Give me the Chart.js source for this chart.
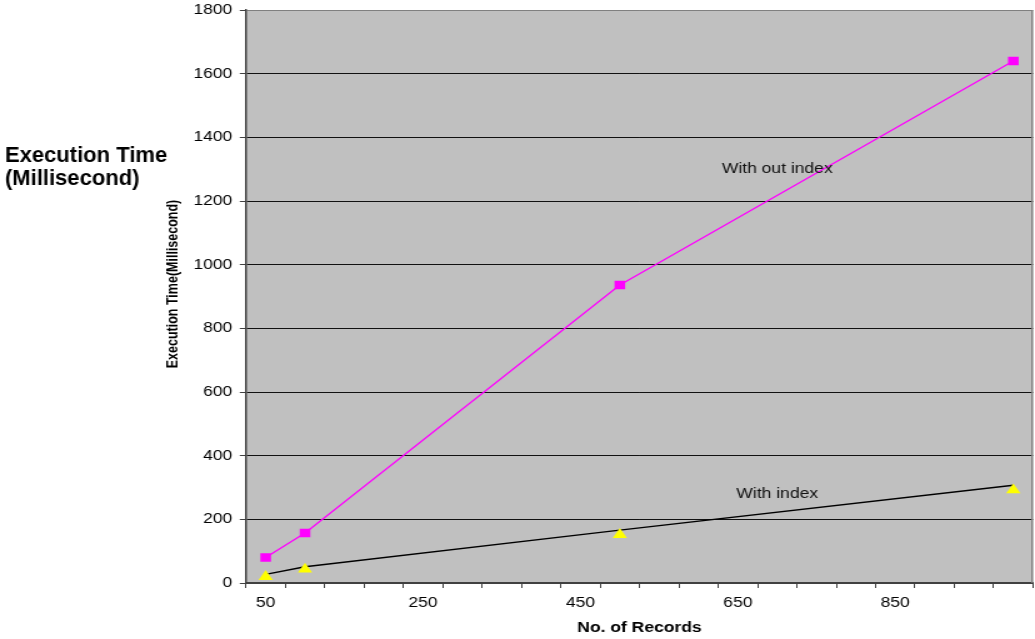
<!DOCTYPE html>
<html>
<head>
<meta charset="utf-8">
<title>Execution Time (Millisecond)</title>
<script src="https://cdn.jsdelivr.net/npm/chart.js@4/dist/chart.umd.min.js"></script>
<style>
  html, body { margin: 0; padding: 0; background: #ffffff; overflow: hidden; }
  #wrap { position: absolute; left: 0; top: 0; width: 1035px; height: 639px; }
  /* the chart is drawn narrow and widened horizontally */
  #chart { transform: scaleX(1.25); transform-origin: 0 0; }
</style>
</head>
<body>
<div id="wrap"><canvas id="chart" width="828" height="639"></canvas></div>
<script>
// ---- data ----
const records = [50, 100, 500, 1000];
const timeWithoutIndex = [80, 157, 936, 1640];
const timeWithIndex = [20, 43, 152, 292];
const withIndexTrend = [27, 51, 166, 307];
const xTickLabels = [50, 250, 450, 650, 850];
const seriesNames = ['With out index', 'With index'];

// ---- layout constants ----
const STRETCH = 1.25;
const FONT = "'Liberation Sans', Arial, Helvetica, sans-serif";
const PLOT_LEFT = 196.8;

Chart.defaults.font.family = FONT;
Chart.defaults.color = '#000000';

const toPoints = (ys) => records.map((x, i) => ({ x: x, y: ys[i] }));

// text labels placed next to each curve (data units)
const curveNotes = [
  { text: seriesNames[0], x: 700, y: 1300 },
  { text: seriesNames[1], x: 700, y: 279 }
];

const plotFrame = {
  id: 'plotFrame',
  beforeDraw(chart) {
    const { ctx, chartArea: a } = chart;
    ctx.save();
    ctx.fillStyle = '#C0C0C0';
    ctx.fillRect(a.left, a.top, a.right - a.left, a.bottom - a.top);
    ctx.restore();
  },
  beforeDatasetsDraw(chart) {
    const { ctx, chartArea: a } = chart;
    ctx.save();
    ctx.strokeStyle = '#808080';
    ctx.lineWidth = 1.4;
    ctx.beginPath();
    ctx.moveTo(a.right - 0.7, a.top);
    ctx.lineTo(a.right - 0.7, a.bottom);
    ctx.stroke();
    ctx.restore();
  }
};

const chartText = {
  id: 'chartText',
  afterDraw(chart) {
    const { ctx, scales } = chart;
    const xs = scales.x, ys = scales.y;
    ctx.save();
    ctx.fillStyle = '#111111';
    ctx.font = '14px ' + FONT;
    ctx.textAlign = 'center';
    ctx.textBaseline = 'middle';
    curveNotes.forEach(n => {
      ctx.fillText(n.text, xs.getPixelForValue(n.x), ys.getPixelForValue(n.y));
    });

    // vertical axis title
    ctx.save();
    ctx.fillStyle = '#000000';
    ctx.translate(139, 284);
    ctx.rotate(-Math.PI / 2);
    ctx.font = 'bold 12.5px ' + FONT;
    ctx.fillText('Execution Time(Millisecond)', 0, 0);
    ctx.restore();

    // heading on the left, drawn without the horizontal widening
    ctx.save();
    ctx.scale(1 / STRETCH, 1);
    ctx.fillStyle = '#000000';
    ctx.textAlign = 'left';
    ctx.textBaseline = 'alphabetic';
    ctx.font = 'bold 22px ' + FONT;
    ctx.fillText('Execution Time', 5, 162);
    ctx.fillText('(Millisecond)', 5, 185);
    ctx.restore();

    ctx.restore();
  }
};

new Chart(document.getElementById('chart'), {
  type: 'line',
  data: {
    datasets: [
      {
        label: seriesNames[0],
        data: toPoints(timeWithoutIndex),
        borderColor: '#FF00FF',
        borderWidth: 1.3,
        pointStyle: 'rect',
        pointRadius: 6,
        pointHoverRadius: 6,
        pointBackgroundColor: '#FF00FF',
        pointBorderWidth: 0,
        tension: 0
      },
      {
        label: seriesNames[1],
        data: toPoints(timeWithIndex),
        showLine: false,
        pointStyle: 'triangle',
        pointRadius: 6.6,
        pointHoverRadius: 6.6,
        pointBackgroundColor: '#FFFF00',
        pointBorderColor: '#FFFF00',
        pointBorderWidth: 0
      },
      {
        label: seriesNames[1] + ' trend',
        data: toPoints(withIndexTrend),
        borderColor: '#000000',
        borderWidth: 1.4,
        pointRadius: 0,
        pointHoverRadius: 0,
        tension: 0
      }
    ]
  },
  options: {
    responsive: false,
    animation: false,
    devicePixelRatio: 1,
    layout: { autoPadding: false, padding: { left: 150, top: 10, right: 1.6, bottom: 0 } },
    plugins: {
      legend: { display: false },
      tooltip: { enabled: false }
    },
    scales: {
      x: {
        type: 'linear',
        min: 25,
        max: 1025,
        afterFit(scale) {
          scale.height = 56;
          scale.paddingLeft = 0;
          scale.paddingRight = 0;
        },
        ticks: {
          stepSize: 25,
          autoSkip: false,
          maxRotation: 0,
          minRotation: 0,
          padding: 7,
          font: { size: 14 },
          color: '#000000',
          callback: (v) => xTickLabels.includes(v) ? String(v) : ''
        },
        grid: {
          drawOnChartArea: false,
          drawTicks: true,
          tickLength: 5,
          tickWidth: 1,
          tickColor: (c) => (c.tick && (c.tick.value - 25) % 50 === 0) ? '#404040' : 'rgba(0,0,0,0)'
        },
        border: { display: true, color: '#404040', width: 2 },
        title: {
          display: true,
          text: 'No. of Records',
          font: { size: 14, weight: 'bold' },
          color: '#000000',
          padding: { top: 0, bottom: 2 }
        }
      },
      y: {
        type: 'linear',
        min: 0,
        max: 1800,
        afterFit(scale) {
          scale.width = PLOT_LEFT - 150;
          scale.paddingTop = 0;
          scale.paddingBottom = 0;
        },
        ticks: {
          stepSize: 200,
          padding: 6,
          font: { size: 14 },
          color: '#000000',
          callback: (v) => String(v)
        },
        grid: {
          drawTicks: true,
          tickLength: 5,
          tickColor: '#404040',
          lineWidth: 1,
          color: (c) => (c.tick && c.tick.value === 1800) ? '#808080' : '#111111'
        },
        border: { display: true, color: '#404040', width: 1.5 }
      }
    }
  },
  plugins: [plotFrame, chartText]
});
</script>
</body>
</html>
